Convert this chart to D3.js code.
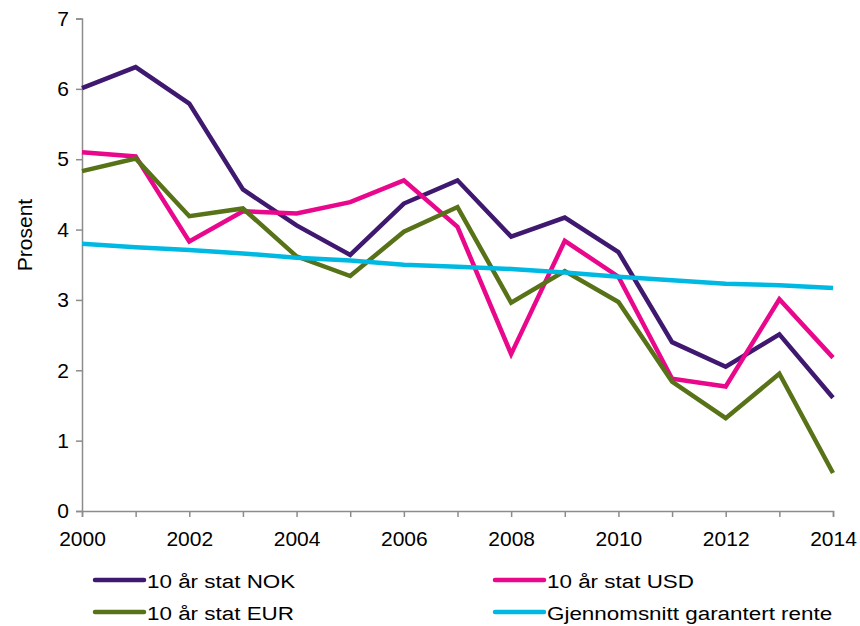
<!DOCTYPE html>
<html>
<head>
<meta charset="utf-8">
<script src="https://cdn.jsdelivr.net/npm/d3@7"></script>
<style>
    body { margin: 0; background: #fff; }
    text { font-family: "Liberation Sans", Arial, sans-serif; fill: #000; }
</style>
</head>
<body>
<svg width="860" height="626"></svg>
<script>
// data
var years = [2000, 2001, 2002, 2003, 2004, 2005, 2006, 2007, 2008, 2009, 2010, 2011, 2012, 2013, 2014];
var nok = [6.01, 6.31, 5.79, 4.57, 4.06, 3.64, 4.37, 4.70, 3.90, 4.17, 3.68, 2.40, 2.05, 2.51, 1.61];
var usd = [5.10, 5.04, 3.83, 4.26, 4.23, 4.39, 4.70, 4.04, 2.23, 3.84, 3.33, 1.88, 1.77, 3.01, 2.18];
var eur = [4.83, 5.01, 4.19, 4.30, 3.62, 3.34, 3.97, 4.32, 2.96, 3.41, 2.97, 1.84, 1.32, 1.95, 0.54];
var garantert = [3.80, 3.75, 3.71, 3.66, 3.60, 3.56, 3.50, 3.47, 3.44, 3.39, 3.33, 3.28, 3.23, 3.21, 3.17];

var seriesNames = ["10 år stat NOK", "10 år stat USD", "10 år stat EUR", "Gjennomsnitt garantert rente"];
var seriesColours = ["#3f1870", "#e9078c", "#587218", "#00b9e2"];
var yTicks = [0, 1, 2, 3, 4, 5, 6, 7];
var xLabels = [2000, 2002, 2004, 2006, 2008, 2010, 2012, 2014];

var series = [nok, usd, eur, garantert];

var svg = d3.select("svg");

var x = d3.scaleLinear().domain([2000, 2014]).range([82, 833]);
var y = d3.scaleLinear().domain([0, 7]).range([511, 18.5]);

var axisColour = "#8c8c8c";

// y axis
var yAxis = svg.append("g")
    .attr("transform", "translate(" + x(2000) + ",0)")
    .call(d3.axisLeft(y).tickValues(yTicks).tickSize(6).tickPadding(7).tickFormat(d3.format("d")));

// x axis
var xAxis = svg.append("g")
    .attr("transform", "translate(0," + y(0) + ")")
    .call(d3.axisBottom(x).tickValues(years).tickSize(6).tickPadding(14)
        .tickFormat(function (d) { return xLabels.indexOf(d) >= 0 ? d : ""; }));

[xAxis, yAxis].forEach(function (a) {
    a.select(".domain").attr("stroke", axisColour).attr("stroke-width", 1.5);
    a.selectAll(".tick line").attr("stroke", axisColour).attr("stroke-width", 1.5);
    a.selectAll(".tick text")
        .style("font-family", "'Liberation Sans', Arial, sans-serif")
        .style("font-size", "21px")
        .attr("fill", "#000");
});

svg.append("text")
    .attr("transform", "translate(32,235) rotate(-90)")
    .attr("text-anchor", "middle")
    .style("font-size", "21px")
    .text("Prosent");

var line = d3.line()
    .x(function (d, i) { return x(years[i]); })
    .y(function (d) { return y(d); });

series.forEach(function (s, i) {
    svg.append("path")
        .datum(s)
        .attr("d", line)
        .attr("fill", "none")
        .attr("stroke", seriesColours[i])
        .attr("stroke-width", 4.5)
        .attr("stroke-linejoin", "miter");
});

// legend
var legendPos = [[95, 580], [495, 580], [95, 612], [495, 612]];
// legend order: NOK, USD, EUR, garantert
seriesNames.forEach(function (name, i) {
    var p = legendPos[i];
    var g = svg.append("g").attr("transform", "translate(" + p[0] + "," + p[1] + ")");
    g.append("line")
        .attr("x1", 0).attr("x2", 49)
        .attr("y1", 0).attr("y2", 0)
        .attr("stroke", seriesColours[i])
        .attr("stroke-width", 4.5)
        .attr("stroke-linecap", "round");
    g.append("text")
        .attr("transform", "translate(52,8) scale(1.18,1)")
        .style("font-size", "19px")
        .text(name);
});
</script>
</body>
</html>
